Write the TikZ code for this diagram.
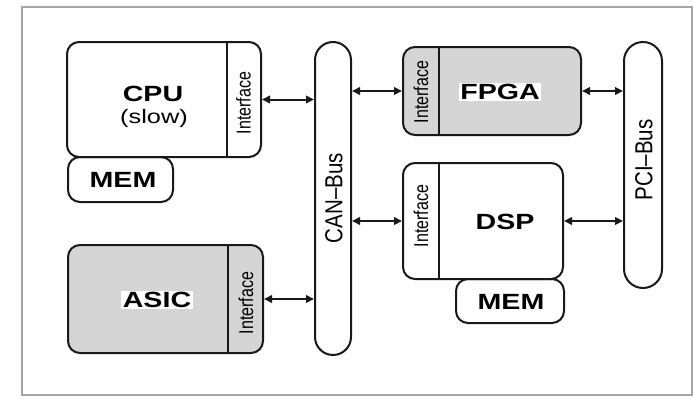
\documentclass[tikz,border=0pt]{standalone}
\usepackage{fontspec}
\setmainfont{Liberation Sans}
\usetikzlibrary{arrows.meta}
\newcommand{\widetxt}[1]{\scalebox{1.3}[1]{#1}}
\newcommand{\talltxt}[1]{\scalebox{1}[1.25]{#1}}
\begin{document}
\begin{tikzpicture}[x=1pt,y=-1pt,
  box/.style={draw=black!90, line width=2pt, rounded corners=12pt, inner sep=0pt},
  grey/.style={fill=gray!33},
  lbl/.style={font=\fontsize{22}{24}\selectfont\bfseries, inner sep=1.5pt},
  ilbl/.style={font=\fontsize{16}{18}\selectfont, rotate=90, inner sep=0pt},
  buslbl/.style={font=\fontsize{20.5}{22}\selectfont, rotate=90, inner sep=0pt},
  arr/.style={line width=2pt, draw=black!90, {Triangle[length=8pt,width=7.5pt]}-{Triangle[length=8pt,width=7.5pt]}},
  divider/.style={line width=2pt, draw=black!90}
]
\useasboundingbox (0,0) rectangle (694,399);
\draw[gray!70, line width=1.5pt] (22,7) rectangle (692,395);

% memories first (behind)
\node[box, fill=white, minimum width=105pt, minimum height=45pt] (mem1) at (120.5,179.5) {};
\node[box, fill=white, minimum width=108pt, minimum height=44pt] (mem2) at (510,301) {};

% CPU
\node[box, fill=white, minimum width=194pt, minimum height=115pt] (cpu) at (164,99.5) {};
\draw[divider] (227,42) coordinate (cpuDt) -- (227,157) coordinate (cpuDb);
\node[lbl] (cpul) at (153,94) {\widetxt{CPU}};
\node[font=\fontsize{19.5}{22}\selectfont, inner sep=1pt] (slow) at (154,118) {\widetxt{(slow)}};
\node[ilbl] (cpui) at (243.5,103) {\talltxt{Interface}};

\node[lbl] (meml1) at (123,180) {\widetxt{MEM}};

% ASIC
\node[box, grey, minimum width=195pt, minimum height=108pt] (asic) at (165.5,299) {};
\draw[divider] (228,245) coordinate (asicDt) -- (228,353) coordinate (asicDb);
\node[lbl, fill=white] (asicl) at (157,300) {\widetxt{ASIC}};
\node[ilbl] (asici) at (246,303) {\talltxt{Interface}};

% CAN bus
\node[box, rounded corners=18pt, minimum width=36pt, minimum height=313pt] (can) at (333,198.5) {};
\node[buslbl] (canl) at (334,198) {\scalebox{1}[1.2]{CAN--Bus}};

% FPGA
\node[box, grey, minimum width=178pt, minimum height=88pt] (fpga) at (492,91) {};
\draw[divider] (439,47) coordinate (fpgaDt) -- (439,135) coordinate (fpgaDb);
\node[lbl, fill=white] (fpgal) at (500,92) {\widetxt{FPGA}};
\node[ilbl] (fpgai) at (421,92) {\talltxt{Interface}};

% DSP
\node[box, fill=white, minimum width=160pt, minimum height=116pt] (dsp) at (483,221) {};
\draw[divider] (439,163) coordinate (dspDt) -- (439,279) coordinate (dspDb);
\node[lbl] (dspl) at (505,222) {\widetxt{DSP}};
\node[ilbl] (dspi) at (421,216) {\talltxt{Interface}};

\node[lbl] (meml2) at (511,302) {\widetxt{MEM}};

% PCI bus
\node[box, rounded corners=19pt, minimum width=38pt, minimum height=246pt] (pci) at (643,165) {};
\node[buslbl] (pcil) at (644,160) {\scalebox{1}[1.2]{PCI--Bus}};

% connectors
\draw[arr] (cpu.east) -- (cpu.east -| can.west);
\draw[arr] (asic.east) -- (asic.east -| can.west);
\draw[arr] (can.east |- fpga.west) -- (fpga.west);
\draw[arr] (can.east |- dsp.west) -- (dsp.west);
\draw[arr] (fpga.east) -- (fpga.east -| pci.west);
\draw[arr] (dsp.east) -- (dsp.east -| pci.west);
\end{tikzpicture}
\end{document}
